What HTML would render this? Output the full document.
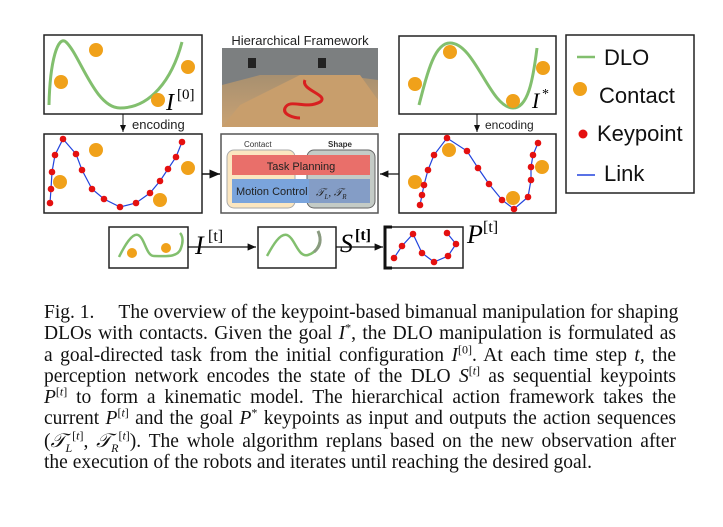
<!DOCTYPE html>
<html><head><meta charset="utf-8"><style>
body{margin:0;width:723px;height:527px;background:#fff;position:relative;overflow:hidden;font-family:"Liberation Serif",serif}
.l{position:absolute;left:44px;width:632px;font-size:19.5px;line-height:21px;white-space:nowrap;text-align:justify;text-align-last:justify;color:#111}
i{font-style:italic}
sup{font-size:12px;line-height:0}
</style></head><body>
<svg width="723" height="290" style="position:absolute;left:0;top:0" font-family="Liberation Sans, sans-serif">
<defs><marker id="ah" markerWidth="8" markerHeight="8" refX="7" refY="4" orient="auto"><path d="M0,1 L7,4 L0,7z" fill="#111"/></marker>
<linearGradient id="wood" x1="0" y1="0" x2="0" y2="1"><stop offset="0" stop-color="#8a8a88"/><stop offset="0.35" stop-color="#a89070"/><stop offset="1" stop-color="#c9a273"/></linearGradient></defs>
<g>
<rect x="44" y="35" width="158" height="79" fill="#fff" stroke="#222" stroke-width="1.5"/>
<path d="M49,105 C50,60 58,35 66,42 C80,55 95,108 120,108 C150,108 172,80 182,42" fill="none" stroke="#82bf6e" stroke-width="3"/>
<circle cx="96" cy="50" r="7" fill="#f0a11a"/><circle cx="61" cy="82" r="7" fill="#f0a11a"/><circle cx="188" cy="67" r="7" fill="#f0a11a"/><circle cx="158" cy="100" r="7" fill="#f0a11a"/>
<text x="166" y="110" font-family="Liberation Serif,serif" font-style="italic" font-size="24">I</text><text x="177" y="99" font-family="Liberation Serif,serif" font-size="15">[0]</text>
</g>
<line x1="123" y1="114" x2="123" y2="132" stroke="#111" marker-end="url(#ah)"/>
<text x="132" y="129" font-size="13" fill="#222">encoding</text>
<g>
<rect x="44" y="134" width="158" height="79" fill="#fff" stroke="#222" stroke-width="1.5"/>
<circle cx="96" cy="150" r="7" fill="#f0a11a"/><circle cx="60" cy="182" r="7" fill="#f0a11a"/><circle cx="188" cy="168" r="7" fill="#f0a11a"/><circle cx="160" cy="200" r="7" fill="#f0a11a"/>
<polyline points="50,203 51,189 52,172 55,155 63,139 76,154 82,170 92,189 104,199 120,207 136,203 150,193 160,181 168,169 176,157 182,142" fill="none" stroke="#2244dd" stroke-width="1.2"/>
<g fill="#e41010"><circle cx="50" cy="203" r="3.3"/><circle cx="51" cy="189" r="3.3"/><circle cx="52" cy="172" r="3.3"/><circle cx="55" cy="155" r="3.3"/><circle cx="63" cy="139" r="3.3"/><circle cx="76" cy="154" r="3.3"/><circle cx="82" cy="170" r="3.3"/><circle cx="92" cy="189" r="3.3"/><circle cx="104" cy="199" r="3.3"/><circle cx="120" cy="207" r="3.3"/><circle cx="136" cy="203" r="3.3"/><circle cx="150" cy="193" r="3.3"/><circle cx="160" cy="181" r="3.3"/><circle cx="168" cy="169" r="3.3"/><circle cx="176" cy="157" r="3.3"/><circle cx="182" cy="142" r="3.3"/></g>
</g>
<text x="300" y="45" font-size="13" text-anchor="middle" fill="#222">Hierarchical Framework</text>
<g>
<rect x="222" y="48" width="156" height="79" fill="url(#wood)"/>
<path d="M222,48 L378,48 L378,80 L340,75 L260,75 L222,85z" fill="#7c7f80"/>
<path d="M240,105 L300,75 L360,75 L378,100 L378,127 L222,127z" fill="#c89e6c"/>
<path d="M305,80 C300,90 330,95 320,102 C305,110 290,98 285,108 C282,115 295,118 300,118" fill="none" stroke="#d82020" stroke-width="3"/>
<rect x="248" y="58" width="8" height="10" fill="#222"/><rect x="318" y="58" width="8" height="10" fill="#222"/>
</g>
<g>
<rect x="221" y="134" width="157" height="79" fill="#fff" stroke="#555" stroke-width="1.5"/>
<text x="244" y="147" font-size="8" fill="#333">Contact</text><text x="328" y="147" font-size="8" font-weight="bold" fill="#333">Shape</text>
<rect x="227" y="150" width="68" height="58" rx="7" fill="#fbe6c0" stroke="#aaa"/>
<rect x="307" y="150" width="68" height="58" rx="7" fill="#c4cbc6" stroke="#666"/>
<rect x="232" y="155" width="138" height="20" fill="#e96f6a"/>
<rect x="232" y="179" width="138" height="24" fill="#7aa4dc"/>
<rect x="309" y="179" width="61" height="24" fill="#8b9ab8" opacity="0.6"/>
<text x="301" y="170" font-size="11" text-anchor="middle" fill="#222">Task Planning</text>
<text x="236" y="195" font-size="11" fill="#222">Motion Control</text>
<text x="316" y="196" font-size="11" font-style="italic" font-family="Liberation Serif,serif" fill="#222">𝒯<tspan font-size="7" dy="3">L</tspan><tspan dy="-3">, 𝒯</tspan><tspan font-size="7" dy="3">R</tspan></text>
</g>
<line x1="202" y1="174" x2="220" y2="174" stroke="#111" stroke-width="1.5" marker-end="url(#ah)"/>
<line x1="399" y1="174" x2="380" y2="174" stroke="#111" stroke-width="1.2" marker-end="url(#ah)"/>
<g>
<rect x="399" y="36" width="157" height="78" fill="#fff" stroke="#222" stroke-width="1.5"/>
<path d="M419,105 C428,70 435,43 450,43 C475,43 490,108 513,108 C528,108 533,80 537,48" fill="none" stroke="#82bf6e" stroke-width="3"/>
<circle cx="415" cy="84" r="7" fill="#f0a11a"/><circle cx="450" cy="52" r="7" fill="#f0a11a"/><circle cx="513" cy="101" r="7" fill="#f0a11a"/><circle cx="543" cy="68" r="7" fill="#f0a11a"/>
<text x="532" y="108" font-family="Liberation Serif,serif" font-style="italic" font-size="22">I</text><text x="542" y="98" font-family="Liberation Serif,serif" font-size="14">*</text>
</g>
<line x1="477" y1="114" x2="477" y2="132" stroke="#111" marker-end="url(#ah)"/>
<text x="485" y="129" font-size="12" fill="#222">encoding</text>
<g>
<rect x="399" y="134" width="157" height="79" fill="#fff" stroke="#222" stroke-width="1.5"/>
<circle cx="415" cy="182" r="7" fill="#f0a11a"/><circle cx="449" cy="150" r="7" fill="#f0a11a"/><circle cx="513" cy="198" r="7" fill="#f0a11a"/><circle cx="542" cy="167" r="7" fill="#f0a11a"/>
<polyline points="420,205 422,195 424,185 428,170 434,155 447,138 467,151 478,168 489,184 502,200 514,209 528,197 531,180 531,167 533,155 538,143" fill="none" stroke="#2244dd" stroke-width="1.2"/>
<g fill="#e41010"><circle cx="420" cy="205" r="3.3"/><circle cx="422" cy="195" r="3.3"/><circle cx="424" cy="185" r="3.3"/><circle cx="428" cy="170" r="3.3"/><circle cx="434" cy="155" r="3.3"/><circle cx="447" cy="138" r="3.3"/><circle cx="467" cy="151" r="3.3"/><circle cx="478" cy="168" r="3.3"/><circle cx="489" cy="184" r="3.3"/><circle cx="502" cy="200" r="3.3"/><circle cx="514" cy="209" r="3.3"/><circle cx="528" cy="197" r="3.3"/><circle cx="531" cy="180" r="3.3"/><circle cx="531" cy="167" r="3.3"/><circle cx="533" cy="155" r="3.3"/><circle cx="538" cy="143" r="3.3"/></g>
</g>
<g>
<rect x="566" y="35" width="128" height="158" fill="#fff" stroke="#222" stroke-width="1.5"/>
<line x1="577" y1="57" x2="595" y2="57" stroke="#82bf6e" stroke-width="2.5"/><text x="604" y="65" font-size="22" fill="#111">DLO</text>
<circle cx="580" cy="89" r="7" fill="#f0a11a"/><text x="599" y="103" font-size="22" fill="#111">Contact</text>
<circle cx="583" cy="134" r="4.5" fill="#e41010"/><text x="597" y="141" font-size="22" fill="#111">Keypoint</text>
<line x1="577" y1="175" x2="595" y2="175" stroke="#2244dd" stroke-width="1.5"/><text x="604" y="181" font-size="22" fill="#111">Link</text>
</g>
<g>
<rect x="109" y="227" width="79" height="41" fill="#fff" stroke="#222" stroke-width="1.5"/>
<path d="M119,257 C125,245 132,233 138,235 C145,238 146,256 154,256 C165,256 178,258 181,248 C184,240 182,235 180,233" fill="none" stroke="#82bf6e" stroke-width="2.5"/>
<circle cx="132" cy="253" r="5" fill="#f0a11a"/><circle cx="166" cy="248" r="5" fill="#f0a11a"/>
</g>
<text x="195" y="254" font-family="Liberation Serif,serif" font-style="italic" font-size="26">I</text><text x="208" y="241" font-family="Liberation Serif,serif" font-size="16">[t]</text>
<line x1="188" y1="247" x2="256" y2="247" stroke="#111" stroke-width="1.2" marker-end="url(#ah)"/>
<g>
<rect x="258" y="227" width="78" height="41" fill="#fff" stroke="#222" stroke-width="1.5"/>
<path d="M267,256 C273,245 280,233 287,235 C295,238 298,258 308,255 C318,252 323,240 318,231" fill="none" stroke="#82bf6e" stroke-width="2.5"/>
<path d="M314,252 C320,247 322,240 318,231" fill="none" stroke="#8a9a80" stroke-width="3"/>
</g>
<text x="340" y="252" font-family="Liberation Serif,serif" font-style="italic" font-size="26">S</text><text x="355" y="240" font-family="Liberation Serif,serif" font-size="16" font-weight="bold">[t]</text>
<line x1="336" y1="247" x2="383" y2="247" stroke="#111" stroke-width="1.2" marker-end="url(#ah)"/>
<g>
<rect x="385" y="227" width="78" height="41" fill="#fff" stroke="#222" stroke-width="1.5"/>
<path d="M392,227 L385,227 L385,268 L392,268" fill="none" stroke="#111" stroke-width="3"/>
<polyline points="394,258 402,246 413,234 422,253 434,262 448,256 456,244 447,233" fill="none" stroke="#2244dd" stroke-width="1.2"/>
<g fill="#e41010"><circle cx="394" cy="258" r="3.3"/><circle cx="402" cy="246" r="3.3"/><circle cx="413" cy="234" r="3.3"/><circle cx="422" cy="253" r="3.3"/><circle cx="434" cy="262" r="3.3"/><circle cx="448" cy="256" r="3.3"/><circle cx="456" cy="244" r="3.3"/><circle cx="447" cy="233" r="3.3"/></g>
</g>
<text x="467" y="243" font-family="Liberation Serif,serif" font-style="italic" font-size="26">P</text><text x="483" y="232" font-family="Liberation Serif,serif" font-size="16">[t]</text>
</svg>
<div>
<div class="l" style="top:302px">Fig. 1.&nbsp;&nbsp;&nbsp;&nbsp; The overview of the keypoint-based bimanual manipulation for shaping</div>
<div class="l" style="top:323px">DLOs with contacts. Given the goal <i>I</i><sup>*</sup>, the DLO manipulation is formulated as</div>
<div class="l" style="top:345px">a goal-directed task from the initial configuration <i>I</i><sup>[0]</sup>. At each time step <i>t</i>, the</div>
<div class="l" style="top:366px">perception network encodes the state of the DLO <i>S</i><sup>[<i>t</i>]</sup> as sequential keypoints</div>
<div class="l" style="top:387px"><i>P</i><sup>[<i>t</i>]</sup> to form a kinematic model. The hierarchical action framework takes the</div>
<div class="l" style="top:408px">current <i>P</i><sup>[<i>t</i>]</sup> and the goal <i>P</i><sup>*</sup> keypoints as input and outputs the action sequences</div>
<div class="l" style="top:431px">(<i>𝒯</i><sub style="font-size:12px"><i>L</i></sub><sup>[<i>t</i>]</sup>, <i>𝒯</i><sub style="font-size:12px"><i>R</i></sub><sup>[<i>t</i>]</sup>). The whole algorithm replans based on the new observation after</div>
<div class="l" style="top:452px;text-align-last:left">the execution of the robots and iterates until reaching the desired goal.</div>
</div>
</body></html>
